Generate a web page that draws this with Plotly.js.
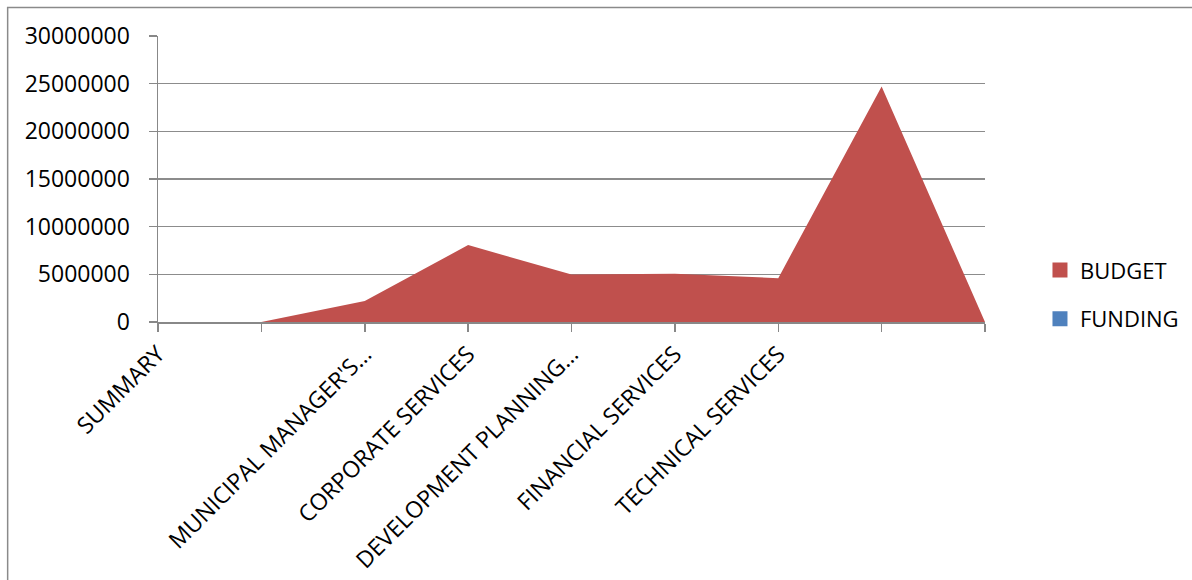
<!DOCTYPE html>
<html>
<head>
<meta charset="utf-8">
<script src="https://cdn.plot.ly/plotly-3.0.1.min.js"></script>
<style>html,body{margin:0;padding:0;background:#fff;overflow:hidden}</style>
</head>
<body>
<div id="chart" style="width:1192px;height:580px"></div>
<script>
// Category labels (blank positions have no label)
const categories = ["SUMMARY", "", "MUNICIPAL MANAGER'S\u2026", "CORPORATE SERVICES",
  "DEVELOPMENT PLANNING\u2026", "FINANCIAL SERVICES", "TECHNICAL SERVICES", "", ""];
const budget  = [null, 0, 2200000, 8070000, 4970000, 5050000, 4600000, 24700000, 0];
const funding = [null, null, null, null, null, null, null, null, null];
const yTicks = [0, 5000000, 10000000, 15000000, 20000000, 25000000, 30000000];

const idx = categories.map((c, i) => i);

const ML = 157.7, MR = 1192 - 985, MT = 35.7, MB = 580 - 321.7;
const PW = 1192 - ML - MR, PH = 580 - MT - MB;
const px2x = p => (p - ML) / PW;
const px2y = p => 1 - (p - MT) / PH;

const font = "'Open Sans', 'Noto Sans', sans-serif";

const traces = [
  {x: idx, y: budget, type: 'scatter', mode: 'none', fill: 'tozeroy',
   fillcolor: '#C0504D', name: 'BUDGET', showlegend: false, hoverinfo: 'skip'},
  {x: idx, y: funding, type: 'scatter', mode: 'none', fill: 'tonexty',
   fillcolor: '#4F81BD', name: 'FUNDING', showlegend: false, hoverinfo: 'skip'},
  {x: [null], y: [null], type: 'scatter', mode: 'markers', name: 'BUDGET',
   legendgroup: 'a', marker: {symbol: 'square', size: 15, color: '#C0504D'}},
  {x: [null], y: [null], type: 'scatter', mode: 'markers', name: 'FUNDING',
   legendgroup: 'b', marker: {symbol: 'square', size: 15, color: '#4F81BD'}}
];

const layout = {
  width: 1192, height: 580,
  margin: {l: ML, r: MR, t: MT, b: MB, pad: 0, autoexpand: false},
  paper_bgcolor: '#fff', plot_bgcolor: '#fff',
  font: {family: font, size: 22, color: '#000'},
  showlegend: true,
  legend: {x: px2x(1040), y: px2y(249), xanchor: 'left', yanchor: 'top',
           traceorder: 'grouped', tracegroupgap: 17,
           font: {family: font, size: 22, color: '#000'}, bgcolor: 'rgba(0,0,0,0)'},
  xaxis: {
    type: 'linear', range: [0, 8], tickmode: 'array', tickvals: idx, ticktext: categories,
    tickangle: -45, showgrid: false, zeroline: false,
    showline: true, linecolor: '#888', linewidth: 1.5,
    ticks: 'outside', ticklen: 8, tickwidth: 1.5, tickcolor: '#888',
    tickfont: {family: font, size: 23, color: '#000'}, fixedrange: true
  },
  yaxis: {
    range: [0, 30000000], tickmode: 'array', tickvals: yTicks, tickformat: 'd',
    showgrid: true, gridcolor: '#8c8c8c', gridwidth: 1.6, zeroline: false,
    showline: true, linecolor: '#888', linewidth: 1.5,
    ticks: 'outside', ticklen: 8, tickwidth: 1.5, tickcolor: '#888',
    ticklabelstandoff: 14,
    tickfont: {family: font, size: 23, color: '#000'}, fixedrange: true
  },
  shapes: [{type: 'rect', xref: 'paper', yref: 'paper',
            x0: px2x(7.3), x1: px2x(1220), y0: px2y(620), y1: px2y(7.3),
            line: {color: '#8a8a8a', width: 1.5}, fillcolor: 'rgba(0,0,0,0)'}]
};

Plotly.newPlot('chart', traces, layout, {displayModeBar: false, staticPlot: true});
</script>
</body>
</html>
